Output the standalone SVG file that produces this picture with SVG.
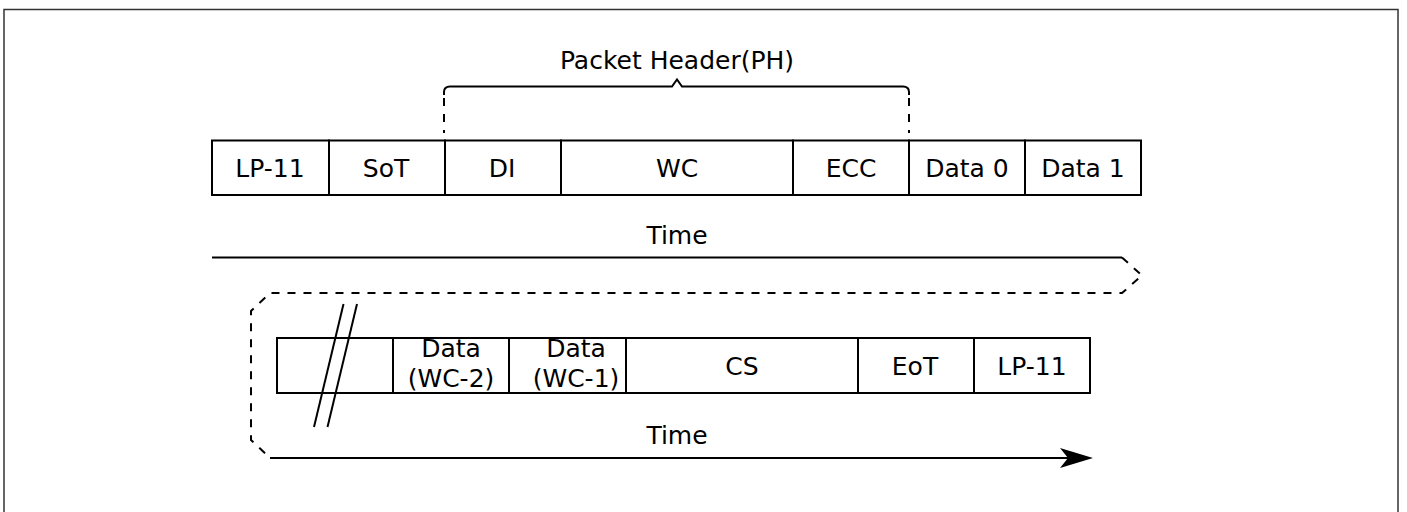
<svg xmlns="http://www.w3.org/2000/svg" width="1407" height="512" viewBox="0 0 1407 512">
<style>
.cell{fill:#fff;stroke:#000;stroke-width:2}
.t{font-family:"DejaVu Sans","Verdana",sans-serif;font-size:25px;fill:#000;text-anchor:middle}
.ln{fill:none;stroke:#000;stroke-width:2}
.dash{fill:none;stroke:#000;stroke-width:2;stroke-dasharray:8 8}
</style>
<rect x="4" y="9.5" width="1394" height="510" fill="#fff" stroke="#333" stroke-width="1.5"/>
<g id="brace">
<path class="ln" d="M444,95 L444,92 Q444,86.5 450,86.5 L672,86.5 L677,79.5 L682,86.5 L903,86.5 Q909,86.5 909,92 L909,95"/>
<line class="dash" x1="444" y1="98" x2="444" y2="133"/>
<line class="dash" x1="909" y1="98" x2="909" y2="133"/>
<text class="t" x="677" y="69">Packet Header(PH)</text>
</g>
<g id="row1">
<g id="lp11a"><rect class="cell" x="212" y="140.5" width="117" height="54.5"/><text class="t" x="270" y="177">LP-11</text></g>
<g id="sot"><rect class="cell" x="329" y="140.5" width="116" height="54.5"/><text class="t" x="386" y="177">SoT</text></g>
<g id="di"><rect class="cell" x="445" y="140.5" width="116" height="54.5"/><text class="t" x="502" y="177">DI</text></g>
<g id="wc"><rect class="cell" x="561" y="140.5" width="232" height="54.5"/><text class="t" x="677" y="177">WC</text></g>
<g id="ecc"><rect class="cell" x="793" y="140.5" width="116" height="54.5"/><text class="t" x="851" y="177">ECC</text></g>
<g id="data0"><rect class="cell" x="909" y="140.5" width="116" height="54.5"/><text class="t" x="967" y="177">Data 0</text></g>
<g id="data1"><rect class="cell" x="1025" y="140.5" width="116" height="54.5"/><text class="t" x="1083" y="177">Data 1</text></g>
</g>
<g id="row2">
<g id="gap"><rect class="cell" x="277" y="338" width="116" height="55"/></g>
<g id="dwc2"><rect class="cell" x="393" y="338" width="116" height="55"/><text class="t" x="451" y="357">Data</text><text class="t" x="451" y="387">(WC-2)</text></g>
<g id="dwc1"><rect class="cell" x="509" y="338" width="117" height="55"/><text class="t" x="576" y="357">Data</text><text class="t" x="576" y="387">(WC-1)</text></g>
<g id="cs"><rect class="cell" x="626" y="338" width="232" height="55"/><text class="t" x="742" y="375">CS</text></g>
<g id="eot"><rect class="cell" x="858" y="338" width="116" height="55"/><text class="t" x="915" y="375">EoT</text></g>
<g id="lp11b"><rect class="cell" x="974" y="338" width="116" height="55"/><text class="t" x="1032" y="375">LP-11</text></g>
<line class="ln" x1="343.5" y1="304" x2="314" y2="427"/>
<line class="ln" x1="357" y1="304" x2="327.5" y2="427"/>
</g>
<g id="connectors">
<line class="ln" x1="212" y1="257.5" x2="1122" y2="257.5"/>
<path class="dash" d="M1122,257.5 L1142,275.5 L1122,293 L270,293 L251,311 L251,440 L270,458"/>
<line class="ln" x1="270" y1="458" x2="1070" y2="458"/>
<polygon points="1093,458 1060,448 1068,458 1060,468" fill="#000"/>
<text class="t" x="677" y="243.5">Time</text>
<text class="t" x="677" y="444">Time</text>
</g>
</svg>
